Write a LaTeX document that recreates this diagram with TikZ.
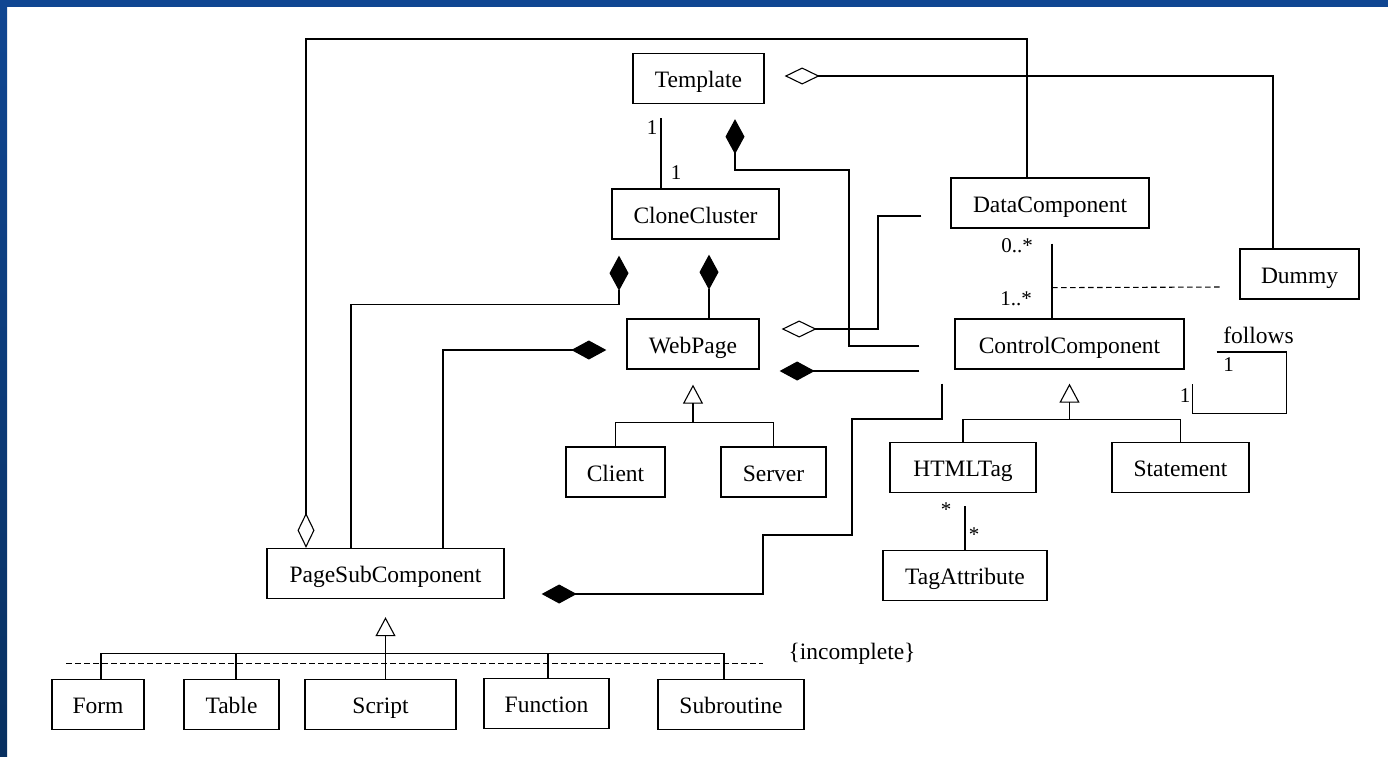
\documentclass[tikz,border=0pt]{standalone}
\usepackage{fontspec}
\setmainfont{Liberation Serif}
\usetikzlibrary{arrows.meta, calc}
\definecolor{slideblue}{RGB}{16,70,146}
\definecolor{slidedark}{RGB}{8,48,96}
\tikzset{
  box/.style={
    rectangle, draw=black, line width=1.3pt, fill=white,
    minimum height=50pt, inner sep=0pt, text centered,
    text height=18.5pt, text depth=0pt,
    font=\fontsize{23.5}{28}\selectfont
  },
  lbl/.style={inner sep=0pt, font=\fontsize{21}{25}\selectfont},
  note/.style={inner sep=0pt, font=\fontsize{23.5}{28}\selectfont},
  link/.style={line width=1.1pt, color=black},
  heavy/.style={line width=2.2pt, color=black},
  comp/.style={-{Diamond[length=35pt, width=19pt, line width=1.1pt]}},
  agg/.style={-{Diamond[open, length=35pt, width=17pt, line width=1.1pt]}},
  gen/.style={-{Triangle[open, length=19pt, width=20pt, line width=1.1pt]}}
}

\begin{document}
\begin{tikzpicture}[
  x=1pt, y=-1pt,
  loose/.style={dash pattern=on 5.5pt off 3.5pt}
]
\fill[white] (0,0) rectangle (1388,756);
\shade[top color=slideblue, bottom color=slidedark] (0,0) rectangle (7,756);
\fill[slideblue] (0,0) rectangle (1388,7);
\useasboundingbox (0,0) rectangle (1388,756);

\node[box, minimum width=131pt] (tmpl) at (698.5,78.5) {Template};
\node[box, minimum width=167pt] (clone) at (695.5,214) {CloneCluster};
\node[box, minimum width=132pt] (webpage) at (693,344) {WebPage};
\node[box, minimum width=99pt] (client) at (615.5,472) {Client};
\node[box, minimum width=105pt] (server) at (773.5,472) {Server};
\node[box, minimum width=198pt] (datacomp) at (1050,203) {DataComponent};
\node[box, minimum width=119pt] (dummy) at (1299.5,274) {Dummy};
\node[box, minimum width=229pt] (ctrlcomp) at (1069.5,344) {ControlComponent};
\node[box, minimum width=146pt] (htmltag) at (963,467.5) {HTMLTag};
\node[box, minimum width=137pt] (statement) at (1180.5,467.5) {Statement};
\node[box, minimum width=164pt] (tagattr) at (965,575.5) {TagAttribute};
\node[box, minimum width=237pt] (pagesub) at (385.5,573.5) {PageSubComponent};
\node[box, minimum width=92pt] (form) at (98,704.5) {Form};
\node[box, minimum width=95pt] (table) at (231.5,704.5) {Table};
\node[box, minimum width=151pt] (script) at (380.5,704.5) {Script};
\node[box, minimum width=125pt] (function) at (546.5,703.5) {Function};
\node[box, minimum width=146pt] (subroutine) at (731,704.5) {Subroutine};

\coordinate (tmplA) at ($(tmpl.south)+(-37.5,14)$);
\draw[link] (tmplA) -- (tmplA |- clone.north);
\node[lbl] (mTmpl) at (652,128) {1};
\node[lbl] (mClone) at (676,173) {1};

\coordinate (tmplAgg) at ($(tmpl.east)+(20,-2.5)$);
\draw[link, agg] ($(dummy.north)+(-26.5,0)$) |- (tmplAgg);

\coordinate (tmplComp) at ($(tmpl.south)+(36.5,15)$);
\coordinate (ccA) at ($(ctrlcomp.west)+(-35,2)$);
\draw[link, comp] (ccA) -| (849,170) -| (tmplComp);

\coordinate (dcA) at ($(datacomp.west)+(-29,13)$);
\coordinate (wpAgg) at ($(webpage.east)+(22,-15)$);
\draw[link, agg] (dcA) -| (878,329) -- (wpAgg);

\coordinate (ccB) at ($(ctrlcomp.west)+(-35,27)$);
\coordinate (wpComp) at ($(webpage.east)+(20,27)$);
\draw[heavy, comp] (ccB) -- (wpComp);

\coordinate (ccC) at ($(ctrlcomp.south west)+(-12,14)$);
\coordinate (psComp) at ($(pagesub.east)+(37,20.5)$);
\draw[heavy, comp] (ccC) |- (852,419) |- (763,535) |- (psComp);

\draw[heavy, agg] ($(datacomp.north)+(-23,0)$) |- (306,39) -- ($(pagesub.north)+(-79.5,0)$);

\coordinate (clComp) at ($(clone.south)+(-76.5,16)$);
\draw[link, comp] ($(pagesub.north)+(-34.5,0)$) |- ($(clComp)+(0,49)$) -- (clComp);

\coordinate (wpComp2) at ($(webpage.west)+(-20,6)$);
\draw[link, comp] ($(pagesub.north)+(57.5,0)$) |- (wpComp2);

\coordinate (clComp2) at ($(clone.south)+(13.5,15)$);
\draw[link, comp] (clComp2 |- webpage.north) -- (clComp2);

\coordinate (wpGen) at ($(webpage.south)+(0,15)$);
\coordinate (wpBar) at ($(webpage.south)+(0,53)$);
\draw[link, gen] (wpBar) -- (wpGen);
\draw[link] (client.north) |- (wpBar) -| (server.north);

\coordinate (ccGen) at ($(ctrlcomp.south)+(0,14)$);
\coordinate (ccBar) at ($(ctrlcomp.south)+(0,49.5)$);
\draw[link, gen] (ccBar) -- (ccGen);
\draw[link] (htmltag.north) |- (ccBar) -| (statement.north);

\coordinate (dcB) at ($(datacomp.south)+(2,15)$);
\draw[link] (dcB) -- (dcB |- ctrlcomp.north);
\node[lbl] (mData) at (1017,246) {0..*};
\node[lbl] (mCtrl) at (1016,299) {1..*};
\coordinate (dummyLink) at ($(dcB)+(0,44)$);
\draw[link, loose] (dummyLink) -- ($(dummy.west)+(-17,13)$);

\coordinate (fA) at ($(ctrlcomp.east)+(32,8)$);
\coordinate (fB) at ($(ctrlcomp.south east)+(8,14)$);
\draw[link] (fA) -- ++(70,0) |- ($(fB)+(0,30)$) -- (fB);
\node[note] (follows) at (1258.5,335) {follows};
\node[lbl] (mFrom) at (1228.5,365) {1};
\node[lbl] (mTo) at (1185,396) {1};

\coordinate (htA) at ($(htmltag.south)+(2,13)$);
\draw[link] (htA) -- (htA |- tagattr.north);
\node[lbl, anchor=north] (mTag) at (946,503) {*};
\node[lbl, anchor=north] (mAttr) at (974,528) {*};

\coordinate (psGen) at ($(pagesub.south)+(0,18)$);
\coordinate (psBar) at ($(pagesub.south)+(0,54)$);
\coordinate (tableTop) at ($(table.north)+(4.5,0)$);
\coordinate (scriptTop) at ($(script.north)+(5,0)$);
\coordinate (functionTop) at ($(function.north)+(1.5,0)$);
\draw[link, gen] (psBar) -- (psGen);
\draw[link] ($(form.north)+(3,0)$) |- (psBar) -| ($(subroutine.north)+(-7,0)$);
\draw[link] (tableTop) -- (tableTop |- psBar);
\draw[link] (scriptTop) -- (scriptTop |- psBar);
\draw[link] (functionTop) -- (functionTop |- psBar);
\draw[link, loose] ($(form.north west)+(15,-15)$) -- ($(subroutine.north east)+(-42,-15)$);
\node[note, anchor=base] (incomplete) at (852,659) {\{incomplete\}};
\end{tikzpicture}
\end{document}
